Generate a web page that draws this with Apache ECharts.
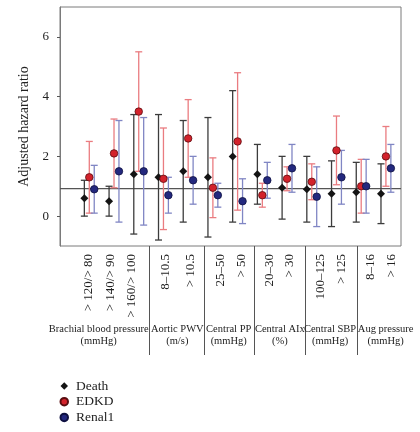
<!DOCTYPE html>
<html><head><meta charset="utf-8">
<script src="https://cdn.jsdelivr.net/npm/echarts@6/dist/echarts.min.js"></script>
<style>html,body{margin:0;padding:0;background:#fff}#c{width:420px;height:432px}</style>
</head><body><div id="c"></div>
<script>
// ---- data ----
const categories = ['> 120/> 80','> 140/> 90','> 160/> 100','8–10.5','> 10.5','25–50','> 50','20–30','> 30','100–125','> 125','8–16','> 16'];
const groupNames = ['Brachial blood pressure\n(mmHg)','Aortic PWV\n(m/s)','Central PP\n(mmHg)','Central AIx\n(%)','Central SBP\n(mmHg)','Aug pressure\n(mmHg)'];
const seriesNames = ['Death','EDKD','Renal1'];
const deathHR = [0.6,0.5,1.4,1.3,1.5,1.3,2.0,1.4,0.95,0.9,0.75,0.8,0.75];
const deathLo = [0.0,0.0,-0.6,-0.8,-0.2,-0.7,-0.2,0.4,-0.1,-0.2,-0.35,-0.2,-0.25];
const deathHi = [1.2,1.0,3.4,3.4,3.2,3.3,4.2,2.4,2.0,2.0,1.85,1.8,1.75];
const edkdHR = [1.3,2.1,3.5,1.25,2.6,0.95,2.5,0.7,1.25,1.15,2.2,1.0,2.0];
const edkdLo = [0.1,0.95,1.5,-0.45,1.3,-0.05,0.2,0.3,0.85,0.55,1.05,0.1,1.0];
const edkdHi = [2.5,3.25,5.5,2.95,3.9,1.95,4.8,1.1,1.65,1.75,3.35,1.9,3.0];
const renalHR = [0.9,1.5,1.5,0.7,1.2,0.7,0.5,1.2,1.6,0.65,1.3,1.0,1.6];
const renalLo = [0.1,-0.2,-0.3,0.1,0.4,0.3,-0.25,0.6,0.8,-0.35,0.4,0.1,0.8];
const renalHi = [1.7,3.2,3.3,1.3,2.0,1.1,1.25,1.8,2.4,1.65,2.2,1.9,2.4];
const refLine = 0.92;
const yTicks = [0,2,4,6];

// ---- layout (axis units) ----
const L = {
  xmin: -1.185, xmax: 12.61, off: [-0.2, 0, 0.2],
  labelPos: [-0.04,0.88,1.72,3.07,4.10,5.30,6.17,7.31,8.12,9.37,10.21,11.38,12.23],
  groupPos: [0.38,3.56,5.64,7.71,9.74,11.99],
  sepPos: [2.415,4.64,6.675,8.73,10.84]
};
const FONT = 'Liberation Serif';
const pointColors = ['#141414','#d3222b','#23287e'];
const pointBorders = ['#141414','#5a0d10','#0e1040'];
const barColors = ['#3c3c3c','#ea7c80','#8086c4'];
const symbols = ['diamond','circle','circle'];
const HR = [deathHR, edkdHR, renalHR], LO = [deathLo, edkdLo, renalLo], HI = [deathHi, edkdHi, renalHi];

const series = [];
for (let s = 0; s < 3; s++) {
  const col = barColors[s];
  series.push({
    type: 'custom', name: seriesNames[s] + ' CI', xAxisIndex: 0, yAxisIndex: 0, silent: true, z: 2,
    data: categories.map((c, i) => [i + L.off[s], LO[s][i], HI[s][i]]),
    renderItem: function (params, api) {
      const lo = api.coord([api.value(0), api.value(1)]);
      const hi = api.coord([api.value(0), api.value(2)]);
      const w = 3.5;
      const st = { stroke: col, lineWidth: 1.3 };
      return { type: 'group', children: [
        { type: 'line', shape: { x1: lo[0], y1: lo[1], x2: hi[0], y2: hi[1] }, style: st },
        { type: 'line', shape: { x1: lo[0]-w, y1: lo[1], x2: lo[0]+w, y2: lo[1] }, style: st },
        { type: 'line', shape: { x1: hi[0]-w, y1: hi[1], x2: hi[0]+w, y2: hi[1] }, style: st }
      ]};
    }
  });
}
for (let s = 0; s < 3; s++) {
  series.push({
    type: 'scatter', name: seriesNames[s], xAxisIndex: 0, yAxisIndex: 0, z: 5,
    symbol: symbols[s], symbolSize: s === 0 ? 8 : 7.5,
    itemStyle: { color: pointColors[s], borderColor: pointBorders[s], borderWidth: s === 0 ? 0 : 0.8, opacity: 1 },
    data: categories.map((c, i) => [i + L.off[s], HR[s][i]])
  });
}
// reference line
series.push({
  type: 'line', xAxisIndex: 0, yAxisIndex: 0, silent: true, z: 1, symbol: 'none',
  lineStyle: { color: '#555', width: 1.2 },
  data: [[L.xmin, refLine], [L.xmax, refLine]]
});

const hidden = { axisLine: { show: false }, axisTick: { show: false }, axisLabel: { show: false }, splitLine: { show: false } };
const option = {
  animation: false,
  backgroundColor: '#fff',
  textStyle: { fontFamily: FONT },
  grid: { left: 60, top: 7, right: 19, bottom: 186, show: true, borderColor: '#7a7a7a', borderWidth: 1 },
  legend: {
    orient: 'vertical', left: 59.5, top: 379, padding: 0, itemGap: 1.7, itemWidth: 7.5, itemHeight: 7.5,
    data: [{ name: 'Death', icon: 'diamond' }, { name: 'EDKD', icon: 'circle' }, { name: 'Renal1', icon: 'circle' }],
    textStyle: { fontFamily: FONT, fontSize: 13.5, lineHeight: 14, color: '#222', padding: [0, 0, 0, 3] }
  },
  xAxis: [
    Object.assign({ type: 'value', min: L.xmin, max: L.xmax, position: 'bottom' }, hidden),
    {
      type: 'value', min: L.xmin, max: L.xmax, position: 'bottom', gridIndex: 0,
      axisLine: { show: false }, splitLine: { show: false }, axisTick: { show: false },
      axisLabel: {
        show: true, customValues: L.labelPos, rotate: 90, margin: 8,
        fontFamily: FONT, fontSize: 13, color: '#222',
        formatter: function (v) { const k = L.labelPos.findIndex(p => Math.abs(p - v) < 1e-6); return k >= 0 ? categories[k] : ''; }
      }
    },
    {
      type: 'value', min: L.xmin, max: L.xmax, position: 'bottom', gridIndex: 0,
      axisLine: { show: false }, splitLine: { show: false },
      axisTick: { show: true, customValues: L.sepPos, length: 109, inside: false, lineStyle: { color: '#555', width: 1 } },
      axisLabel: {
        show: true, customValues: L.groupPos, margin: 77, lineHeight: 12,
        fontFamily: FONT, fontSize: 10.5, color: '#222',
        formatter: function (v) { const k = L.groupPos.findIndex(p => Math.abs(p - v) < 1e-6); return k >= 0 ? groupNames[k] : ''; }
      }
    }
  ],
  yAxis: {
    type: 'value', min: -1, max: 7,
    name: 'Adjusted hazard ratio', nameLocation: 'middle', nameGap: 26,
    nameTextStyle: { fontFamily: FONT, fontSize: 14, color: '#222' },
    axisLine: { show: true, onZero: false, lineStyle: { color: '#7a7a7a', width: 1 } },
    axisTick: { show: true, customValues: yTicks, length: 3, lineStyle: { color: '#555' } },
    axisLabel: { customValues: yTicks, margin: 11, fontFamily: FONT, fontSize: 13, color: '#222' },
    splitLine: { show: false }
  },
  series: series
};
const chart = echarts.init(document.getElementById('c'), null, { renderer: 'canvas' });
chart.setOption(option);
</script></body></html>
